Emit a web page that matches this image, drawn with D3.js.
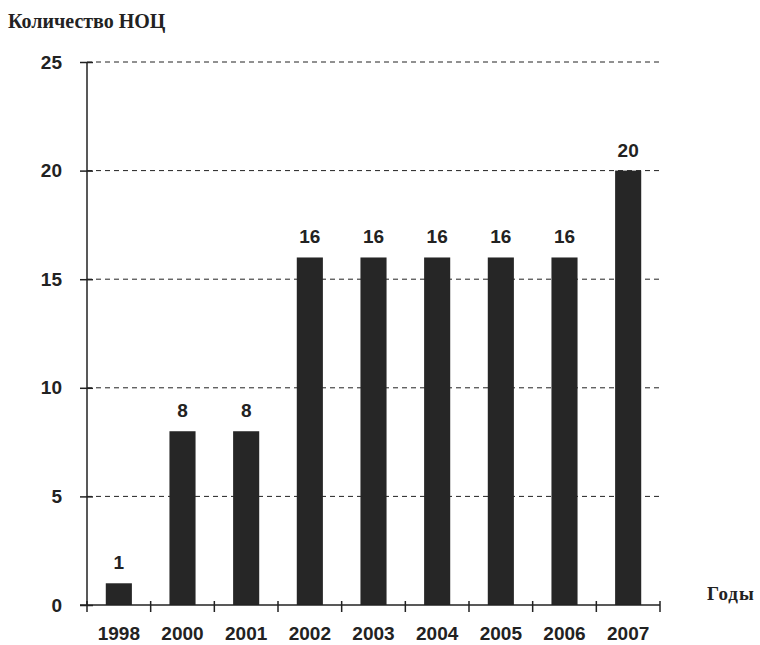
<!DOCTYPE html>
<html>
<head>
<meta charset="utf-8">
<script src="https://cdn.jsdelivr.net/npm/d3@7"></script>
<style>
  html, body { margin: 0; padding: 0; background: #fff; }
  svg { display: block; }
</style>
</head>
<body>
<svg id="chart" width="760" height="645"></svg>
<script>
// Number of scientific-educational centres by year
const years = ["1998", "2000", "2001", "2002", "2003", "2004", "2005", "2006", "2007"];
const counts = [1, 8, 8, 16, 16, 16, 16, 16, 20];
const yTicks = [0, 5, 10, 15, 20, 25];

(function () {
  const svg = d3.select("#chart");
  const plotLeft = 87, plotRight = 660, plotTop = 62, plotBottom = 605;
  const ink = "#222";
  const sans = "Liberation Sans, Arial, sans-serif";
  const serif = "Liberation Serif, Times New Roman, serif";

  const x = d3.scaleBand().domain(years).range([plotLeft, plotRight]).paddingInner(0.59).paddingOuter(0.295);
  const y = d3.scaleLinear().domain([0, 25]).range([plotBottom, plotTop]);

  // Dashed horizontal gridlines
  svg.append("g").selectAll("line").data(yTicks.filter(d => d > 0)).join("line")
    .attr("x1", plotLeft).attr("x2", plotRight)
    .attr("y1", d => y(d)).attr("y2", d => y(d))
    .attr("stroke", ink).attr("stroke-width", 1)
    .attr("stroke-dasharray", "5,4");

  // Bars
  svg.append("g").selectAll("rect").data(years).join("rect")
    .attr("x", d => x(d))
    .attr("width", x.bandwidth())
    .attr("y", (d, i) => y(counts[i]))
    .attr("height", (d, i) => y(0) - y(counts[i]))
    .attr("fill", "#262626");

  // Value labels
  svg.append("g").selectAll("text").data(years).join("text")
    .attr("x", d => x(d) + x.bandwidth() / 2)
    .attr("y", (d, i) => y(counts[i]) - 14)
    .attr("text-anchor", "middle")
    .attr("font-family", sans)
    .attr("font-weight", "bold").attr("font-size", 19).attr("fill", ink)
    .text((d, i) => counts[i]);

  // Y axis
  const yAxis = svg.append("g").attr("transform", `translate(${plotLeft},0)`)
    .call(d3.axisLeft(y).tickValues(yTicks).tickSize(7).tickPadding(18));
  yAxis.select(".domain").attr("stroke", ink).attr("stroke-width", 1.5).attr("d", `M0,${plotTop}V${plotBottom}`);
  yAxis.selectAll(".tick line").attr("stroke", ink).attr("stroke-width", 1.5).attr("x1", 6);
  yAxis.selectAll(".tick text")
    .attr("font-family", sans)
    .attr("font-weight", "bold").attr("font-size", 19).attr("fill", ink);

  // X axis: ticks at category boundaries
  const bounds = years.map(d => x(d) - x.step() * x.paddingInner() / 2);
  bounds.push(plotRight);
  const xAxis = svg.append("g");
  xAxis.append("line").attr("x1", plotLeft - 7).attr("x2", plotRight).attr("y1", plotBottom).attr("y2", plotBottom)
    .attr("stroke", ink).attr("stroke-width", 1.5);
  xAxis.selectAll("line.tk").data(bounds).join("line").attr("class", "tk")
    .attr("x1", d => d).attr("x2", d => d)
    .attr("y1", plotBottom - 4).attr("y2", plotBottom + 7)
    .attr("stroke", ink).attr("stroke-width", 1.5);
  xAxis.selectAll("text").data(years).join("text")
    .attr("x", d => x(d) + x.bandwidth() / 2)
    .attr("y", plotBottom + 35)
    .attr("text-anchor", "middle")
    .attr("font-family", sans)
    .attr("font-weight", "bold").attr("font-size", 19).attr("fill", ink)
    .text(d => d);

  // Axis titles
  svg.append("text").attr("x", 8).attr("y", 28)
    .attr("font-family", serif)
    .attr("font-weight", "bold").attr("font-size", 20).attr("fill", ink)
    .text("Количество НОЦ");
  svg.append("text").attr("x", 707).attr("y", 600)
    .attr("font-family", serif)
    .attr("font-weight", "bold").attr("font-size", 19).attr("letter-spacing", 1).attr("fill", ink)
    .text("Годы");
})();
</script>
</body>
</html>
